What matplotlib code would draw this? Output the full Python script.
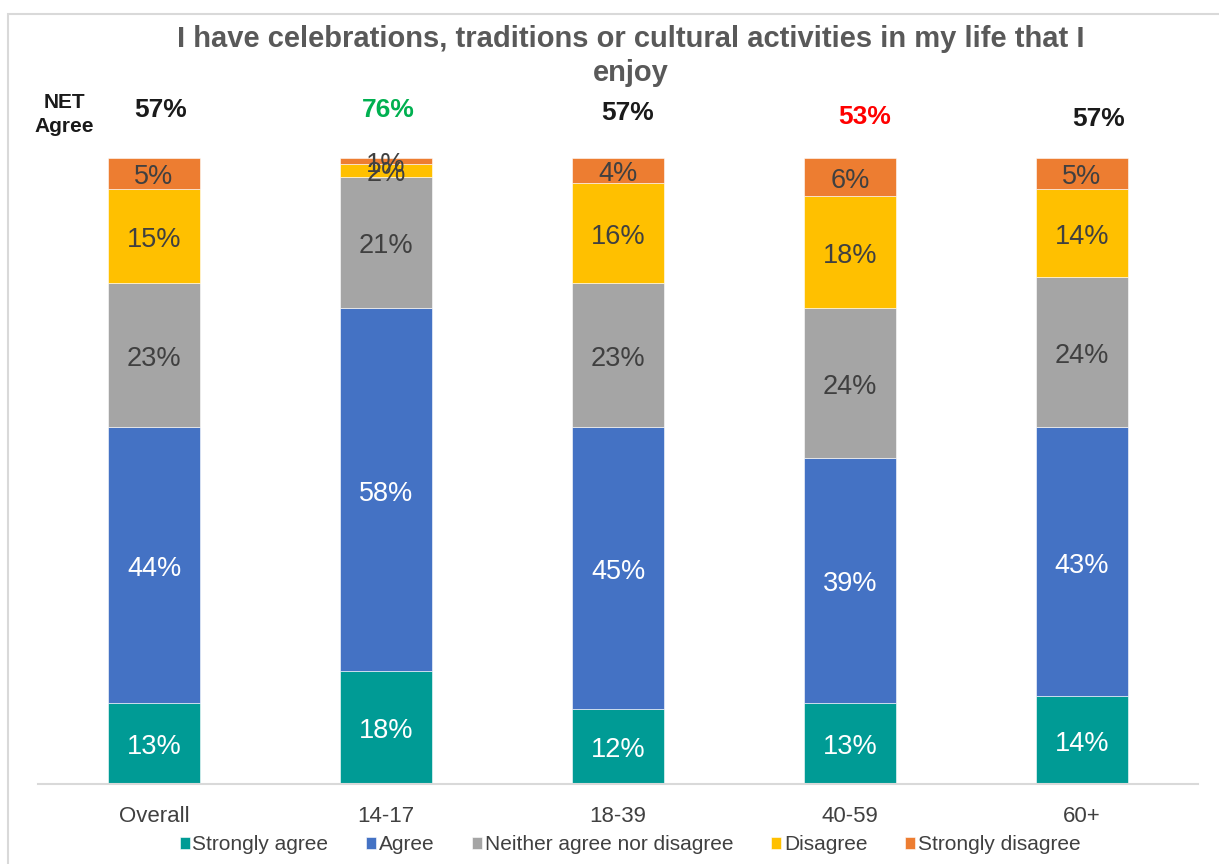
import numpy as np
import matplotlib.pyplot as plt
from matplotlib.patches import Rectangle

plt.rcParams["font.family"] = ["Liberation Sans", "DejaVu Sans"]

categories = ["Overall", "14-17", "18-39", "40-59", "60+"]
series_names = [
    "Strongly agree",
    "Agree",
    "Neither agree nor disagree",
    "Disagree",
    "Strongly disagree",
]
strongly_agree = [13, 18, 12, 13, 14]
agree = [44, 58, 45, 39, 43]
neither = [23, 21, 23, 24, 24]
disagree = [15, 2, 16, 18, 14]
strongly_disagree = [5, 1, 4, 6, 5]
net_agree = [57, 76, 57, 53, 57]

colors = ["#009B95", "#4472C4", "#A5A5A5", "#FFC000", "#ED7D31"]
label_colors = ["white", "white", "#404040", "#404040", "#404040"]
net_colors = ["#1a1a1a", "#00B050", "#1a1a1a", "#FF0000", "#1a1a1a"]
net_dx = [0.03, 0.01, 0.04, 0.065, 0.07]
net_y = [107.7, 107.7, 107.2, 106.5, 106.3]

fig = plt.figure(figsize=(12.19, 8.64), dpi=100)
ax = fig.add_axes([38 / 1219, 80 / 864, 1160 / 1219, 626 / 864])

# outer chart frame (top and left edges visible)
fig.add_artist(Rectangle((8 / 1219, -0.1), 1.2, (864 - 14) / 864 + 0.1,
                         transform=fig.transFigure, fill=False,
                         edgecolor="#D9D9D9", lw=1.5))

x = np.arange(len(categories))
series = [strongly_agree, agree, neither, disagree, strongly_disagree]
bottom = np.zeros(len(categories))
for vals, name, col, lc in zip(series, series_names, colors, label_colors):
    vals = np.array(vals, dtype=float)
    ax.bar(x, vals, 0.4, bottom=bottom, color=col, label=name,
           edgecolor="white", linewidth=0.4)
    for xi, b, v in zip(x, bottom, vals):
        ax.text(xi, b + v / 2 - 0.6, f"{v:.0f}%", ha="center", va="center",
                fontsize=19.5, color=lc)
    bottom += vals

for xi, v, c, dx, yy in zip(x, net_agree, net_colors, net_dx, net_y):
    ax.text(xi + dx, yy, f"{v}%", ha="center", va="center", fontsize=19,
            fontweight="bold", color=c, clip_on=False)

ax.text(-0.385, 107.0, "NET\nAgree", ha="center", va="center", fontsize=15,
        fontweight="bold", color="#1a1a1a", linespacing=1.35, clip_on=False)

fig.text(631 / 1219, 1 - 56 / 864,
         "I have celebrations, traditions or cultural activities in my life that I\nenjoy",
         ha="center", va="center", fontsize=21, fontweight="bold",
         color="#595959", linespacing=1.25)

ax.set_xlim(-0.5, 4.5)
ax.set_ylim(0, 100)
ax.set_yticks([])
ax.set_xticks(x)
ax.set_xticklabels(categories, fontsize=16, color="#404040")
ax.tick_params(axis="x", length=0, pad=16)
for s in ["top", "right", "left"]:
    ax.spines[s].set_visible(False)
ax.spines["bottom"].set_color("#D9D9D9")
ax.spines["bottom"].set_linewidth(1.5)

ax.legend(loc="center", bbox_to_anchor=(592 / 1160, -(845 - 784) / 626),
          ncol=5, frameon=False, fontsize=15, handlelength=0.5,
          handleheight=0.5, handletextpad=0.12, columnspacing=1.8,
          labelcolor="#404040")

fig.savefig("out.png", dpi=100)
